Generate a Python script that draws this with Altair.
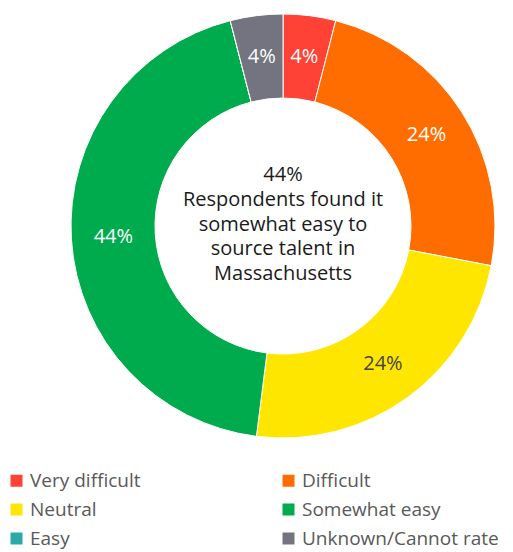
import altair as alt
import pandas as pd

categories = ["Very difficult", "Difficult", "Neutral", "Somewhat easy", "Easy", "Unknown/Cannot rate"]
values = [4, 24, 24, 44, 0, 4]
colors = ["#FF4136", "#FF6D00", "#FFE600", "#00AB4E", "#2BAAA8", "#747480"]
# legend reading order (two columns, filled row by row)
legend_order = ["Very difficult", "Neutral", "Easy", "Difficult", "Somewhat easy", "Unknown/Cannot rate"]
center_lines = ["44%", "Respondents found it", "somewhat easy to", "source talent in", "Massachusetts"]

df = pd.DataFrame({"Category": categories, "Value": values, "order": list(range(len(categories)))})
color_map = dict(zip(categories, colors))

FONT = "Open Sans"
cx, cy = 275, 218

color_scale = alt.Scale(domain=legend_order, range=[color_map[c] for c in legend_order])

base = alt.Chart(df).encode(
    theta=alt.Theta("Value:Q", stack=True),
    order=alt.Order("order:Q"),
)

arcs = base.mark_arc(innerRadius=128, outerRadius=212, stroke="white", strokeWidth=1).encode(
    x=alt.value(cx),
    y=alt.value(cy),
    color=alt.Color(
        "Category:N",
        scale=color_scale,
        legend=alt.Legend(
            title=None,
            orient="none",
            legendX=-1,
            legendY=463,
            padding=0,
            columns=2,
            columnPadding=138,
            rowPadding=9,
            symbolType="square",
            symbolSize=144,
            symbolStrokeWidth=0,
            labelFont=FONT,
            labelFontSize=19,
            labelColor="#595959",
            labelOffset=4,
            labelLimit=300,
        ),
    ),
)

labels = base.transform_filter("datum.Value > 0").transform_calculate(
    label="datum.Value + '%'"
).mark_text(radius=170, font=FONT, fontSize=20).encode(
    x=alt.value(cx),
    y=alt.value(cy),
    text=alt.Text("label:N"),
    color=alt.condition(alt.datum.Category == "Neutral", alt.value("#444444"), alt.value("white")),
)

center = alt.Chart(pd.DataFrame({"t": [0]})).mark_text(
    font=FONT, fontSize=20, color="#1a1a1a", lineHeight=24.8, align="center", baseline="middle"
).encode(
    x=alt.value(cx),
    y=alt.value(cy - 51),
    text=alt.value(center_lines),
)

chart = alt.layer(arcs, labels, center).properties(
    width=497, height=543, autosize=alt.AutoSizeParams(type="none"), padding=0
).configure_view(stroke=None)

chart.save("out.html", embed_options={"renderer": "svg", "actions": False})
